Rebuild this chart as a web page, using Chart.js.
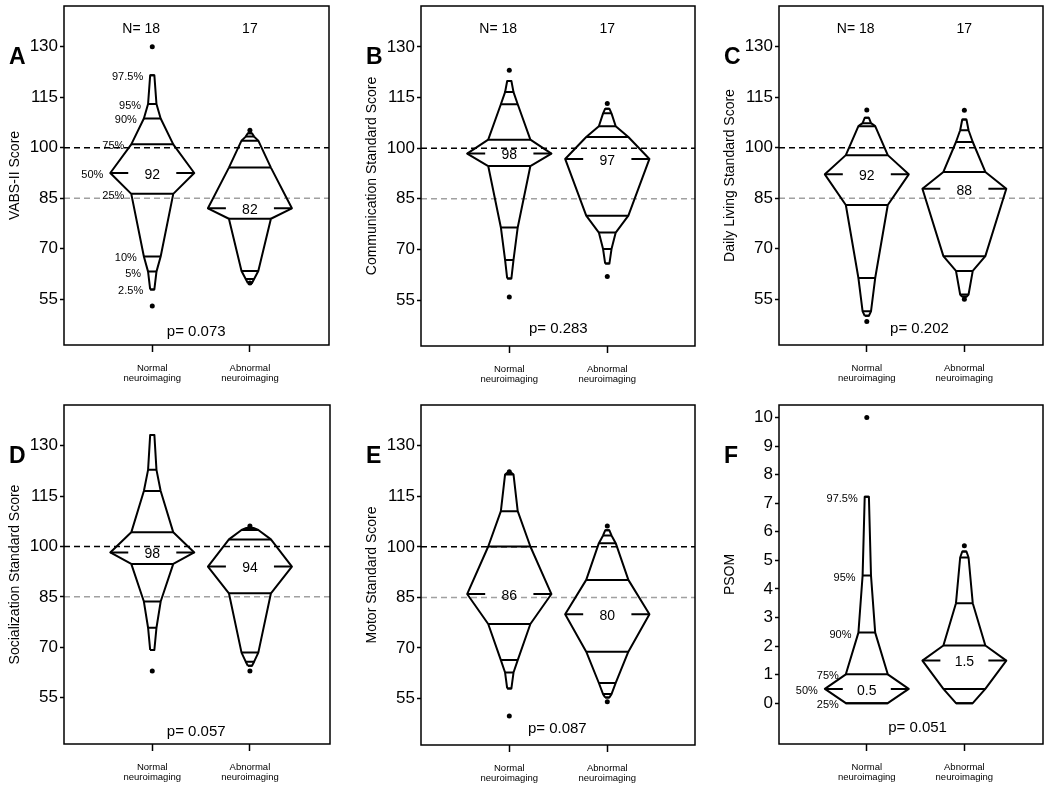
<!DOCTYPE html>
<html>
<head>
<meta charset="utf-8">
<script src="https://cdn.jsdelivr.net/npm/chart.js@4.4.1/dist/chart.umd.min.js"></script>
<style>
  body{margin:0;background:#fff;width:1050px;height:790px;position:relative;overflow:hidden}
  canvas{position:absolute}
</style>
</head>
<body>
<canvas id="pA"></canvas><canvas id="pB"></canvas><canvas id="pC"></canvas>
<canvas id="pD"></canvas><canvas id="pE"></canvas><canvas id="pF"></canvas>
<script>
// groups + percentile levels
const groupNames = [['Normal','neuroimaging'], ['Abnormal','neuroimaging']];
const groupN = [18, 17];
const pctLevels = [2.5, 5, 10, 25, 50, 75, 90, 95, 97.5];
const pctText = ['2.5%','5%','10%','25%','50%','75%','90%','95%','97.5%'];
const scoreTicks = [55, 70, 85, 100, 115, 130];
const psomTicks = [0,1,2,3,4,5,6,7,8,9,10];
const refLines = [100, 85];

// percentile values, same order as pctLevels; dots = [min, max] (null = not drawn)
const vabsNormal = [57.9, 63.2, 67.7, 86.3, 92.5, 101, 108.7, 113, 121.5];
const vabsAbnormal = [59.8, 61, 63.4, 78.9, 82, 94.1, 102.1, 103.3, 104.3];
const vabsDotsN = [53, 130], vabsDotsA = [59.8, 105.2];
const vabsMedText = ['92','82'];
const vabsPctShown = ['2.5%','5%','10%','25%','50%','75%','90%','95%','97.5%'];

const commNormal = [61.4, 66.9, 76.5, 94.7, 98.4, 102.5, 113, 116.6, 119.9];
const commAbnormal = [65.8, 70.1, 75, 80, 96.8, 103.3, 106.5, 110.3, 111.7];
const commDotsN = [55.9, 123.1], commDotsA = [62, 113.2];
const commMedText = ['98','97'];

const dailyNormal = [50.1, 51.4, 61.3, 83, 92.1, 97.8, 106.4, 107.3, 108.9];
const dailyAbnormal = [55.7, 56.4, 63.4, 67.8, 87.8, 92.8, 101.7, 105.2, 108.4];
const dailyDotsN = [48.4, 111.2], dailyDotsA = [55, 111.1];
const dailyMedText = ['92','88'];

const socNormal = [69.2, 75.8, 83.6, 94.8, 98.2, 104.2, 116.5, 122.8, 133.2];
const socAbnormal = [64.5, 65.7, 68.4, 86.05, 94, 102.1, 104.9, 105.4, 105.6];
const socDotsN = [62.9, null], socDotsA = [62.9, 106.1];
const socMedText = ['98','94'];

const motorNormal = [58, 62.7, 66.4, 77.1, 86, 100.1, 110.6, 121.5, 122];
const motorAbnormal = [55.3, 56.3, 59.6, 68.9, 80, 90.2, 101.1, 103.4, 104.9];
const motorDotsN = [49.8, 122.3], motorDotsA = [54, 106.2];
const motorMedText = ['86','80'];

const psomNormal = [0, 0, 0, 0, 0.5, 1.01, 2.47, 4.47, 7.23];
const psomAbnormal = [0, 0, 0, 0.5, 1.49, 2.02, 3.5, 5.1, 5.31];
const psomDotsN = [null, 10], psomDotsA = [null, 5.51];
const psomMedText = ['0.5','1.5'];
const psomPctShown = ['25%','50%','75%','90%','95%','97.5%'];

const FONT = '"Liberation Sans", Arial, sans-serif';

const panels = [
  {id:'pA', letter:'A', title:'VABS-II Score', normal:vabsNormal, abnormal:vabsAbnormal, dotsN:vabsDotsN, dotsA:vabsDotsA, med:vabsMedText, p:'p= 0.073', ticks:scoreTicks, refs:true, showN:true, pctShown:vabsPctShown,
   cv:{x:0,y:0,w:345,h:392}, box:{l:64,t:6,r:329,b:345}, xr:[0.096,2.81], yr:[41.4,142.1], pPos:[1.45,45.3]},
  {id:'pB', letter:'B', title:'Communication Standard Score', normal:commNormal, abnormal:commAbnormal, dotsN:commDotsN, dotsA:commDotsA, med:commMedText, p:'p= 0.283', ticks:scoreTicks, refs:true, showN:true,
   cv:{x:357,y:0,w:348,h:392}, box:{l:421,t:6,r:695,b:346}, xr:[0.099,2.895], yr:[41.4,142.1], pPos:[1.5,46.5]},
  {id:'pC', letter:'C', title:'Daily Living Standard Score', normal:dailyNormal, abnormal:dailyAbnormal, dotsN:dailyDotsN, dotsA:dailyDotsA, med:dailyMedText, p:'p= 0.202', ticks:scoreTicks, refs:true, showN:true,
   cv:{x:715,y:0,w:335,h:392}, box:{l:779,t:6,r:1043,b:345}, xr:[0.1,2.806], yr:[41.4,142.1], pPos:[1.54,46.2]},
  {id:'pD', letter:'D', title:'Socialization Standard Score', normal:socNormal, abnormal:socAbnormal, dotsN:socDotsN, dotsA:socDotsA, med:socMedText, p:'p= 0.057', ticks:scoreTicks, refs:true,
   cv:{x:0,y:396,w:345,h:394}, box:{l:64,t:405,r:330,b:744}, xr:[0.096,2.82], yr:[41.2,142.1], pPos:[1.45,44.9]},
  {id:'pE', letter:'E', title:'Motor Standard Score', normal:motorNormal, abnormal:motorAbnormal, dotsN:motorDotsN, dotsA:motorDotsA, med:motorMedText, p:'p= 0.087', ticks:scoreTicks, refs:true,
   cv:{x:357,y:396,w:348,h:394}, box:{l:421,t:405,r:695,b:745}, xr:[0.099,2.895], yr:[41.2,142.1], pPos:[1.49,46]},
  {id:'pF', letter:'F', title:'PSOM', normal:psomNormal, abnormal:psomAbnormal, dotsN:psomDotsN, dotsA:psomDotsA, med:psomMedText, p:'p= 0.051', ticks:psomTicks, refs:false, pctShown:psomPctShown,
   cv:{x:715,y:396,w:335,h:394}, box:{l:779,t:405,r:1043,b:744}, xr:[0.1,2.806], yr:[-1.43,10.44], pPos:[1.52,-0.85]}
];

const medDash = 0.184;
function hw(p){ return 0.86 * Math.min(p, 100 - p) / 100; }

function lineDs(data, extra){
  return Object.assign({data, showLine:true, pointRadius:0, borderColor:'#000', borderWidth:2, fill:false, tension:0, spanGaps:false, borderJoinStyle:'round', borderCapStyle:'butt'}, extra||{});
}

function groupDatasets(vals, dots, c){
  const left = pctLevels.map((p,i)=>({x:c-hw(p), y:vals[i]}));
  const right = pctLevels.map((p,i)=>({x:c+hw(p), y:vals[i]})).reverse();
  const outline = left.concat(right, [left[0]]);
  const bars = [];
  pctLevels.forEach((p,i)=>{
    if(p===50) return;
    bars.push({x:c-hw(p), y:vals[i]}, {x:c+hw(p), y:vals[i]}, {x:c, y:null});
  });
  const m = vals[4], h = hw(50);
  const med = [{x:c-h,y:m},{x:c-h+medDash,y:m},{x:c,y:null},{x:c+h-medDash,y:m},{x:c+h,y:m}];
  const pts = dots.filter(v=>v!==null).map(v=>({x:c, y:v}));
  return [
    lineDs(outline),
    lineDs(bars),
    lineDs(med),
    {data:pts, showLine:false, pointRadius:2.5, pointBackgroundColor:'#000', pointBorderWidth:0}
  ];
}

function textPlugin(pn){
  return {
    id:'panelText',
    afterDraw(chart){
      const {ctx, chartArea:a, scales:{x, y}} = chart;
      ctx.save();
      ctx.strokeStyle = '#000'; ctx.lineWidth = 1.5;
      ctx.strokeRect(a.left, a.top, a.right - a.left, a.bottom - a.top);
      ctx.fillStyle = '#000';
      ctx.textAlign = 'center'; ctx.textBaseline = 'middle';
      ctx.font = '14px ' + FONT;
      [pn.normal, pn.abnormal].forEach((vals,i)=>{
        ctx.fillText(pn.med[i], x.getPixelForValue(i+1), y.getPixelForValue(vals[4]) + 2);
      });
      ctx.font = '15px ' + FONT;
      ctx.fillText(pn.p, x.getPixelForValue(pn.pPos[0]), y.getPixelForValue(pn.pPos[1]));
      if(pn.showN){
        ctx.font = '14px ' + FONT;
        const ty = a.top + 23;
        groupN.forEach((n,i)=>{
          const cx = x.getPixelForValue(i+1);
          ctx.textAlign = 'center';
          ctx.fillText(String(n), cx, ty);
          if(i===0){ ctx.textAlign = 'right'; ctx.fillText('N= ', cx - ctx.measureText(String(n)).width/2, ty); }
        });
      }
      if(pn.pctShown){
        ctx.font = '11px ' + FONT;
        ctx.textAlign = 'right';
        pctLevels.forEach((p,i)=>{
          if(!pn.pctShown.includes(pctText[i])) return;
          ctx.fillText(pctText[i], x.getPixelForValue(1 - hw(p)) - 7, y.getPixelForValue(pn.normal[i]) + 2);
        });
      }
      ctx.font = 'bold 23px ' + FONT;
      ctx.textAlign = 'left';
      ctx.fillText(pn.letter, a.left - 55, a.top + 52);
      ctx.restore();
    }
  };
}

panels.forEach(pn=>{
  const cv = document.getElementById(pn.id);
  cv.width = pn.cv.w; cv.height = pn.cv.h;
  cv.style.left = pn.cv.x + 'px'; cv.style.top = pn.cv.y + 'px';
  const yW = pn.box.l - pn.cv.x, xH = pn.cv.y + pn.cv.h - pn.box.b;
  const padTop = pn.box.t - pn.cv.y, padRight = pn.cv.x + pn.cv.w - pn.box.r;

  let datasets = groupDatasets(pn.normal, pn.dotsN, 1).concat(groupDatasets(pn.abnormal, pn.dotsA, 2));
  if(pn.refs){
    datasets.push(lineDs([{x:pn.xr[0],y:refLines[0]},{x:pn.xr[1],y:refLines[0]}], {borderWidth:1.5, borderDash:[6,4]}));
    datasets.push(lineDs([{x:pn.xr[0],y:refLines[1]},{x:pn.xr[1],y:refLines[1]}], {borderWidth:1.5, borderDash:[6,4], borderColor:'#a0a0a0'}));
  }

  new Chart(cv, {
    type:'scatter',
    data:{datasets},
    options:{
      responsive:false, animation:false, devicePixelRatio:1, events:[],
      layout:{padding:{top:padTop, right:padRight, left:0, bottom:0}},
      plugins:{legend:{display:false}, tooltip:{enabled:false}},
      scales:{
        x:{
          type:'linear', min:pn.xr[0], max:pn.xr[1],
          afterBuildTicks: s => { s.ticks = [{value:1},{value:2}]; },
          afterFit: s => { s.height = xH; s.paddingLeft = 0; s.paddingRight = 0; },
          grid:{display:true, drawOnChartArea:false, drawTicks:true, tickLength:7, tickColor:'#000', tickWidth:1.5},
          border:{display:false},
          ticks:{autoSkip:false, maxRotation:0, padding:11, color:'#000', font:{family:FONT, size:9.5, lineHeight:1.05},
                 callback: v => groupNames[Math.round(v)-1]}
        },
        y:{
          type:'linear', min:pn.yr[0], max:pn.yr[1],
          afterBuildTicks: s => { s.ticks = pn.ticks.map(v=>({value:v})); },
          afterFit: s => { s.width = yW; s.paddingTop = 0; s.paddingBottom = 0; },
          grid:{display:true, drawOnChartArea:false, drawTicks:true, tickLength:4, tickColor:'#000', tickWidth:1.5},
          border:{display:false},
          ticks:{padding:2, color:'#000', font:{family:FONT, size:17}, callback: v => String(v)},
          title:{display:true, text:pn.title, color:'#000', font:{family:FONT, size:14}, padding:{top:6.6, bottom:0}}
        }
      }
    },
    plugins:[textPlugin(pn)]
  });
});
</script>
</body>
</html>
